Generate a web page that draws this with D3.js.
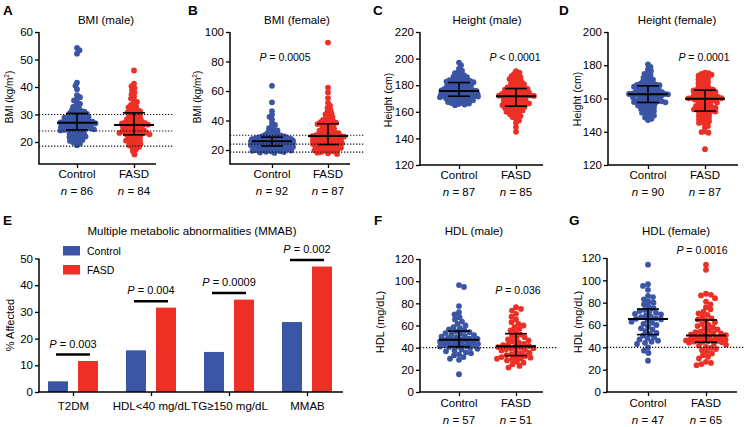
<!DOCTYPE html>
<html><head><meta charset="utf-8">
<script src="https://cdn.jsdelivr.net/npm/d3@7"></script>
<style>
html,body{margin:0;padding:0;background:#fff;}
svg{display:block;font-family:Arial,"Liberation Sans",Helvetica,sans-serif;}
</style></head>
<body><svg id="chart" width="749" height="427"></svg>
<script>
// ---------------- DATA ----------------
const groups = ['Control', 'FASD'];

const bmiMaleControl = [54.2,53.4,52.1,41.6,40.5,39.2,37.0,36.3,35.6,35.1,34.4,33.9,33.2,32.8,32.3,31.9,31.6,31.3,31.0,30.8,30.6,
  30.4,30.2,30.0,29.8,29.6,29.4,29.3,29.1,28.9,28.7,28.5,28.4,28.2,28.0,27.9,27.7,27.6,27.5,27.4,27.3,27.2,27.1,
  27.0,26.9,26.8,26.6,26.5,26.4,26.2,26.1,26.0,25.8,25.7,25.6,25.4,25.3,25.1,25.0,24.9,24.8,24.7,24.6,24.5,24.4,
  24.2,24.0,23.8,23.6,23.3,23.1,22.9,22.6,22.4,22.2,22.0,21.7,21.5,21.2,21.0,20.7,20.4,20.1,19.8,19.5,18.8];
const bmiMaleFASD = [46.0,41.2,40.3,39.6,38.8,38.0,37.3,36.5,35.8,35.2,34.6,34.0,33.5,33.0,32.6,32.2,31.8,31.5,31.2,31.0,30.8,
  30.5,30.2,29.9,29.6,29.3,29.0,28.8,28.5,28.3,28.0,27.8,27.6,27.4,27.2,27.0,26.9,26.8,26.7,26.5,26.4,26.3,
  26.1,25.9,25.7,25.5,25.3,25.1,24.9,24.7,24.5,24.3,24.2,24.0,23.9,23.7,23.6,23.4,23.3,23.2,23.0,22.9,22.8,
  22.6,22.3,22.0,21.8,21.5,21.2,21.0,20.7,20.5,20.2,20.0,19.7,19.4,19.1,18.8,18.5,18.2,17.8,17.3,16.6,15.5];
const bmiFemaleControl = [63.5,52.3,46.4,44.0,42.5,40.8,38.3,37.0,35.8,34.8,34.0,33.2,32.5,31.9,31.3,30.8,30.4,30.0,29.7,29.4,29.2,29.0,28.8,
  28.6,28.4,28.2,28.0,27.9,27.7,27.6,27.4,27.3,27.1,27.0,26.9,26.8,26.7,26.6,26.5,26.4,26.3,26.3,26.2,26.1,26.1,26.0,
  25.9,25.8,25.6,25.5,25.3,25.2,25.0,24.9,24.7,24.6,24.4,24.3,24.1,24.0,23.8,23.7,23.5,23.4,23.3,23.1,23.0,22.9,22.8,
  22.6,22.4,22.2,22.0,21.8,21.6,21.4,21.2,21.0,20.8,20.6,20.4,20.2,20.0,19.8,19.6,19.4,19.2,19.0,18.8,18.6,18.3,18.0];
const bmiFemaleFASD = [92.8,62.3,59.0,55.2,52.0,50.1,48.6,47.2,46.0,45.0,44.1,43.2,42.5,41.8,41.0,40.4,39.8,39.3,38.9,38.5,38.2,37.9,
  37.6,37.0,36.5,36.0,35.5,35.0,34.5,34.0,33.5,33.1,32.7,32.3,31.9,31.5,31.2,30.9,30.6,30.3,30.1,29.9,29.7,29.6,
  29.4,29.1,28.8,28.5,28.2,27.9,27.6,27.3,27.0,26.7,26.5,26.2,26.0,25.7,25.5,25.2,25.0,24.7,24.5,24.2,24.0,23.8,
  23.5,23.2,22.9,22.6,22.3,22.0,21.7,21.5,21.2,21.0,20.7,20.4,20.1,19.8,19.5,19.2,18.9,18.6,18.2,17.8,17.3];
const heightMaleControl = [197,195,192.5,191,190,189,188,187.5,187,186.5,186,185.5,185,184.5,184,183.8,183.5,183.2,183,182.7,182.5,182.2,
  181.8,181.5,181.2,181,180.5,180.2,180,179.5,179.2,179,178.5,178.2,178,177.6,177.3,177,176.7,176.5,176.3,176.1,176,175.8,
  175.5,175.3,175,174.8,174.5,174.3,174,173.8,173.6,173.4,173.2,173,172.8,172.6,172.4,172.3,172.2,172.1,172,171.9,171.8,171.7,
  171.5,171.2,171,170.7,170.5,170.2,170,169.6,169.3,169,168.6,168.3,168,167.6,167.3,167,166.6,166.2,165.8,165.4,165];
const heightMaleFASD = [190.5,189.5,188.5,187.5,186.8,186,185.3,184.6,184,183.3,182.7,182,181.4,180.8,180.2,179.6,179.2,178.8,178.4,178,177.7,
  177.3,177,176.6,176.3,176,175.6,175.3,175,174.6,174.3,174,173.7,173.4,173.2,173,172.7,172.5,172.3,172.1,171.9,171.8,
  171.5,171.2,170.8,170.5,170.1,169.8,169.4,169,168.7,168.3,168,167.6,167.3,167,166.6,166.3,166,165.6,165.3,165,164.7,164.4,
  164,163.6,163.2,162.8,162.4,162,161.5,161,160.5,160,159.4,158.8,158.2,157.5,156.8,156,154.8,153.5,151.8,148.5,145];
const heightFemaleControl = [180.5,179,177.5,176.5,175.5,174.8,174,173.3,172.6,172,171.4,170.8,170.3,169.8,169.4,169,168.7,168.4,168.2,168,167.8,167.7,
  167.4,167.1,166.8,166.5,166.2,165.9,165.6,165.3,165,164.7,164.5,164.2,164,163.8,163.6,163.4,163.2,163,162.9,162.8,162.7,162.7,162.6,
  162.5,162.4,162.3,162.2,162,161.8,161.5,161.2,161,160.7,160.4,160.1,159.8,159.5,159.2,159,158.7,158.5,158.3,158.1,157.9,157.8,157.7,
  157.4,157,156.6,156.2,155.8,155.4,155,154.6,154.2,153.8,153.4,153,152.5,152,151.5,151,150.4,149.8,149.2,148.5,147.8,147];
const heightFemaleFASD = [175.5,175.2,174.8,174.3,173.8,173.3,172.7,172.2,171.6,171,170.4,169.8,169.2,168.6,168,167.4,166.9,166.4,166,165.6,165.3,165.1,
  164.8,164.5,164.2,163.9,163.6,163.3,163,162.7,162.4,162.1,161.8,161.6,161.3,161,160.8,160.6,160.4,160.2,160.1,160,159.9,
  159.6,159.3,159,158.7,158.3,158,157.6,157.2,156.8,156.4,156,155.6,155.2,154.9,154.6,154.3,154,153.7,153.4,153.1,152.8,152.6,
  152.2,151.8,151.3,150.8,150.3,149.8,149.3,148.8,148.3,147.8,147.3,146.8,146.3,145.8,145.3,144.5,143.5,142.5,140.2,139.8,139.4,129.5];
const hdlMaleControl = [96.5,94.8,77.5,72,70,67.5,65.5,63.5,61.5,60,58.5,57.5,56.5,55.5,
  54.5,54,53.2,52.5,52,51.3,50.5,50,49.3,48.7,48.2,47.8,47.5,47.2,
  46.8,46.5,46,45.6,45,44.5,44,43.5,43,42.6,42.2,41.8,41.5,41.2,41,
  40.5,39.8,39,38.3,37.5,36.7,35.8,35,34,33,31.5,30,29,16];
const hdlMaleFASD = [76.5,75,73.5,70.5,68,65.5,63,61.5,60,58.5,57,55.5,54,
  52,50.5,49.5,48.5,47.5,46.5,45.5,44.5,43.5,42.8,42.2,41.6,
  41,40.5,40,39.5,39,38.5,38,37.5,36.5,35.5,34.8,34,33.3,
  32.5,32,31.5,31,30.5,30,29.5,28.5,27.5,26.5,25,23.5,22];
const hdlFemaleControl = [114,96.5,95,91.5,86,85,83,81,80,78.5,76.5,75,
  73.5,72.5,72,71,70,69.5,68.5,67.5,67,66,65.5,
  65,64,63,62,61,60,58.5,57,56,54.5,53,52,
  50.5,49,48,47,46,45,44,43,40,37,35,28];
const hdlFemaleFASD = [114,109.5,88,87,86.5,84,81,78.5,76,74,72,70.5,69,67.5,66,65,
  64,62.5,61,60,59,58,57,56,55,54,53.5,53,52.5,52,51.5,51,
  50,49.5,49,48.5,48,47.5,47,46.8,46.5,46.2,46,45.7,45.4,45.1,44.8,44.6,
  44.2,43.5,42.5,41.5,40.5,39.5,38.5,37.5,36,34.5,33,31.5,30,27,26,25,24];

// median / interquartile range [q1, median, q3] per group
const bmiMaleStats = [[24.4, 27.0, 30.4], [22.6, 26.2, 30.6]];
const bmiFemaleStats = [[22.7, 25.9, 28.7], [23.7, 29.5, 37.8]];
const heightMaleStats = [[171.7, 175.7, 182.0], [164.2, 171.7, 177.5]];
const heightFemaleStats = [[157.6, 162.6, 167.6], [152.4, 159.8, 165.0]];
const hdlMaleStats = [[40.9, 47.2, 55.0], [32.8, 41.3, 52.6]];
const hdlFemaleStats = [[51.4, 65.4, 74.3], [44.5, 50.5, 64.5]];

const bmiMaleN = [86, 84];
const bmiFemaleN = [92, 87];
const heightMaleN = [87, 85];
const heightFemaleN = [90, 87];
const hdlMaleN = [57, 51];
const hdlFemaleN = [47, 65];

const bmiRefLines = [30, 24, 18.5];
const hdlRefLines = [40];

const bmiMaleTicks = [20, 30, 40, 50, 60];
const bmiFemaleTicks = [20, 40, 60, 80, 100];
const heightMaleTicks = [120, 140, 160, 180, 200, 220];
const heightFemaleTicks = [120, 140, 160, 180, 200];
const hdlTicks = [0, 20, 40, 60, 80, 100, 120];

// Panel E
const mmabCategories = ['T2DM', 'HDL<40 mg/dL', 'TG\u2265150 mg/dL', 'MMAB'];
const mmabControl = [4.0, 15.6, 15.0, 26.2];
const mmabFASD = [11.6, 31.6, 34.6, 47.0];
const mmabP = ['0.003', '0.004', '0.0009', '0.002'];
const mmabTicks = [0, 10, 20, 30, 40, 50];

// ---------------- DRAW ----------------
const BLUE = '#3b55a5', RED = '#ec3026';
const colors = [BLUE, RED];
const svg = d3.select('#chart');
const FONT = 'Arial,"Liberation Sans",Helvetica,sans-serif';

function swarm(vals, y, d, maxW) {
  const pts = vals.map(v => ({ v, y: y(v) })).sort((a, b) => a.y - b.y);
  const placed = [];
  const step = 0.5, nMax = Math.floor(maxW / step);
  pts.forEach((p, i) => {
    let best = 0, bestScore = -Infinity, done = false;
    for (let k = 0; k <= nMax && !done; k++) {
      const sides = k === 0 ? [0] : (i % 2 ? [k * step, -k * step] : [-k * step, k * step]);
      for (const off of sides) {
        let minD = Infinity;
        for (const q of placed) {
          const dy = q.y - p.y;
          if (Math.abs(dy) >= d) continue;
          const dd = Math.hypot(q.x - off, dy);
          if (dd < minD) minD = dd;
        }
        if (minD >= d) { best = off; done = true; break; }
        if (minD > bestScore) { bestScore = minD; best = off; }
      }
    }
    p.x = best; placed.push(p);
  });
  return placed;
}

function letter(t, x, y) {
  svg.append('text').attr('x', x).attr('y', y).attr('font-size', 13.5).attr('font-weight', 900)
    .attr('font-family', FONT).text(t);
}

function pLabel(g, x, y, rel, val, size) {
  const t = g.append('text').attr('x', x).attr('y', y).attr('text-anchor', 'middle')
    .attr('font-size', size || 10.5).attr('font-family', FONT);
  t.append('tspan').attr('font-style', 'italic').text('P');
  t.append('tspan').text(' ' + rel + ' ' + val);
}

function dotPanel(cfg) {
  const g = svg.append('g');
  const y = d3.scaleLinear().domain(cfg.yDomain).range([cfg.bottom, cfg.top]);
  const x = d3.scalePoint().domain(groups).range(cfg.cx);
  // dots
  cfg.data.forEach((vals, gi) => {
    const pts = swarm(vals, y, cfg.d, cfg.maxW);
    g.append('g').selectAll('circle').data(pts).join('circle')
      .attr('cx', p => x(groups[gi]) + p.x).attr('cy', p => p.y).attr('r', 2.9)
      .attr('fill', colors[gi]);
  });
  // reference lines
  g.append('g').selectAll('line').data(cfg.refs).join('line')
    .attr('x1', cfg.axisX).attr('x2', cfg.refEnd).attr('y1', v => y(v)).attr('y2', v => y(v))
    .attr('stroke', '#111').attr('stroke-width', 1.2).attr('stroke-dasharray', '1.3,1.7');
  // error bars
  cfg.stats.forEach((s, gi) => {
    const cx = x(groups[gi]);
    const eb = g.append('g').attr('stroke', '#000');
    eb.append('line').attr('x1', cx).attr('x2', cx).attr('y1', y(s[0])).attr('y2', y(s[2])).attr('stroke-width', 1.6);
    eb.append('line').attr('x1', cx - 11).attr('x2', cx + 11).attr('y1', y(s[0])).attr('y2', y(s[0])).attr('stroke-width', 1.6);
    eb.append('line').attr('x1', cx - 11).attr('x2', cx + 11).attr('y1', y(s[2])).attr('y2', y(s[2])).attr('stroke-width', 1.6);
    eb.append('line').attr('x1', cx - 20).attr('x2', cx + 20).attr('y1', y(s[1])).attr('y2', y(s[1])).attr('stroke-width', 2);
  });
  // y axis
  const ya = g.append('g').attr('transform', `translate(${cfg.axisX},0)`)
    .call(d3.axisLeft(y).tickValues(cfg.ticks).tickSize(4).tickPadding(2).tickSizeOuter(0));
  ya.select('.domain').attr('stroke-width', 1.5).attr('d', `M0,${cfg.top}V${cfg.bottom}`);
  ya.selectAll('.tick line').attr('stroke-width', 1.3);
  ya.selectAll('.tick text').attr('font-size', 11.5).attr('font-family', FONT).attr('fill', '#000');
  // x axis
  const xa = g.append('g').attr('transform', `translate(0,${cfg.bottom})`)
    .call(d3.axisBottom(x).tickSize(4).tickFormat(''));
  xa.select('.domain').attr('stroke-width', 1.5).attr('d', `M${cfg.axisX - 0.7},0H${cfg.xEnd}`);
  xa.selectAll('.tick line').attr('stroke-width', 1.3);
  // category + n labels
  groups.forEach((gname, gi) => {
    g.append('text').attr('x', x(gname)).attr('y', cfg.catY).attr('text-anchor', 'middle')
      .attr('font-size', 11.5).attr('font-family', FONT).text(gname);
    const t = g.append('text').attr('x', x(gname)).attr('y', cfg.nY).attr('text-anchor', 'middle')
      .attr('font-size', 11.5).attr('font-family', FONT);
    t.append('tspan').attr('font-style', 'italic').text('n');
    t.append('tspan').text(' = ' + cfg.n[gi]);
  });
  // title
  g.append('text').attr('x', cfg.titleX).attr('y', cfg.titleY).attr('text-anchor', 'middle')
    .attr('font-size', 11.5).attr('font-family', FONT).text(cfg.title);
  // y label
  const yl = g.append('text').attr('transform', `translate(${cfg.ylabelX},${cfg.ylabelY}) rotate(-90)`)
    .attr('text-anchor', 'middle').attr('font-size', cfg.ylabelSize).attr('font-family', FONT);
  if (cfg.ylabelSup) {
    yl.append('tspan').text(cfg.ylabel[0]);
    yl.append('tspan').attr('font-size', cfg.ylabelSize * 0.65).attr('dy', -4).text(cfg.ylabel[1]);
    yl.append('tspan').attr('dy', 4).text(cfg.ylabel[2]);
  } else yl.text(cfg.ylabel);
  if (cfg.p) pLabel(g, cfg.pX, cfg.pY, cfg.p[0], cfg.p[1]);
  letter(cfg.letter, cfg.letterX, cfg.letterY);
}

dotPanel({ letter: 'A', letterX: 3, letterY: 15, title: 'BMI (male)', titleX: 106, titleY: 24,
  ylabel: ['BMI (kg/m', '2', ')'], ylabelSup: true, ylabelSize: 10, ylabelX: 13, ylabelY: 97,
  data: [bmiMaleControl, bmiMaleFASD], stats: bmiMaleStats, n: bmiMaleN, refs: bmiRefLines,
  yDomain: [12, 60], ticks: bmiMaleTicks, top: 32, bottom: 164, axisX: 39, xEnd: 156, refEnd: 173,
  cx: [77, 134], catY: 178, nY: 195, d: 3.3, maxW: 20 });
dotPanel({ letter: 'B', letterX: 188, letterY: 15, title: 'BMI (female)', titleX: 297, titleY: 24,
  ylabel: ['BMI (kg/m', '2', ')'], ylabelSup: true, ylabelSize: 10, ylabelX: 201, ylabelY: 97,
  data: [bmiFemaleControl, bmiFemaleFASD], stats: bmiFemaleStats, n: bmiFemaleN, refs: bmiRefLines,
  yDomain: [10.5, 100], ticks: bmiFemaleTicks, top: 32, bottom: 164, axisX: 230, xEnd: 350, refEnd: 365,
  cx: [272, 328], catY: 178, nY: 195, d: 3.3, maxW: 21, p: ['=', '0.0005'], pX: 285, pY: 61 });
dotPanel({ letter: 'C', letterX: 373, letterY: 15, title: 'Height (male)', titleX: 487, titleY: 24,
  ylabel: 'Height (cm)', ylabelSize: 10.5, ylabelX: 392, ylabelY: 100,
  data: [heightMaleControl, heightMaleFASD], stats: heightMaleStats, n: heightMaleN, refs: [],
  yDomain: [120, 220], ticks: heightMaleTicks, top: 32, bottom: 165, axisX: 420, xEnd: 543, refEnd: 543,
  cx: [459, 516], catY: 179, nY: 196, d: 3.3, maxW: 19, p: ['<', '0.0001'], pX: 515, pY: 61 });
dotPanel({ letter: 'D', letterX: 559, letterY: 15, title: 'Height (female)', titleX: 677, titleY: 24,
  ylabel: 'Height (cm)', ylabelSize: 10.5, ylabelX: 581, ylabelY: 99,
  data: [heightFemaleControl, heightFemaleFASD], stats: heightFemaleStats, n: heightFemaleN, refs: [],
  yDomain: [120, 200], ticks: heightFemaleTicks, top: 32, bottom: 165, axisX: 608, xEnd: 738, refEnd: 738,
  cx: [648, 705], catY: 179, nY: 196, d: 3.3, maxW: 20, p: ['=', '0.0001'], pX: 704, pY: 61 });
dotPanel({ letter: 'F', letterX: 374, letterY: 225, title: 'HDL (male)', titleX: 474, titleY: 235,
  ylabel: 'HDL (mg/dL)', ylabelSize: 11, ylabelX: 384, ylabelY: 322,
  data: [hdlMaleControl, hdlMaleFASD], stats: hdlMaleStats, n: hdlMaleN, refs: hdlRefLines,
  yDomain: [0, 120], ticks: hdlTicks, top: 259, bottom: 392, axisX: 420, xEnd: 543, refEnd: 558,
  cx: [459, 516], catY: 407, nY: 424, d: 5.0, maxW: 19, p: ['=', '0.036'], pX: 518, pY: 294 });
dotPanel({ letter: 'G', letterX: 569, letterY: 225, title: 'HDL (female)', titleX: 676, titleY: 235,
  ylabel: 'HDL (mg/dL)', ylabelSize: 11, ylabelX: 582, ylabelY: 322,
  data: [hdlFemaleControl, hdlFemaleFASD], stats: hdlFemaleStats, n: hdlFemaleN, refs: hdlRefLines,
  yDomain: [0, 120], ticks: hdlTicks, top: 258, bottom: 392, axisX: 607, xEnd: 737, refEnd: 745,
  cx: [648, 706], catY: 407, nY: 424, d: 5.0, maxW: 20, p: ['=', '0.0016'], pX: 702, pY: 254 });

// ---- Panel E: bar chart ----
(function () {
  const g = svg.append('g');
  const top = 258.5, bottom = 392, axisX = 39, xEnd = 343;
  const y = d3.scaleLinear().domain([0, 50]).range([bottom, top]);
  const x = d3.scalePoint().domain(mmabCategories).range([73, 307]);
  const x1 = d3.scaleBand().domain(groups).range([-25, 25]).paddingInner(1 / 3);
  const rows = mmabCategories.map((c, i) => ({ c, vals: [mmabControl[i], mmabFASD[i]], p: mmabP[i] }));
  rows.forEach(r => {
    r.vals.forEach((v, gi) => {
      g.append('rect').attr('x', x(r.c) + x1(groups[gi])).attr('width', x1.bandwidth())
        .attr('y', y(v)).attr('height', y(0) - y(v)).attr('fill', colors[gi]);
    });
    const ly = y(Math.max(...r.vals)) - 6.5;
    g.append('line').attr('x1', x(r.c) - 17).attr('x2', x(r.c) + 17).attr('y1', ly).attr('y2', ly)
      .attr('stroke', '#000').attr('stroke-width', 2.5);
    pLabel(g, x(r.c), ly - 7, '=', r.p, 11);
  });
  const ya = g.append('g').attr('transform', `translate(${axisX},0)`)
    .call(d3.axisLeft(y).tickValues(mmabTicks).tickSize(4).tickPadding(2).tickSizeOuter(0));
  ya.select('.domain').attr('stroke-width', 1.5).attr('d', `M0,${top}V${bottom}`);
  ya.selectAll('.tick line').attr('stroke-width', 1.3);
  ya.selectAll('.tick text').attr('font-size', 11.5).attr('font-family', FONT).attr('fill', '#000');
  const xa = g.append('g').attr('transform', `translate(0,${bottom})`)
    .call(d3.axisBottom(x).tickSize(4).tickPadding(6));
  xa.select('.domain').attr('stroke-width', 1.5).attr('d', `M${axisX - 0.7},0H${xEnd}`);
  xa.selectAll('.tick line').attr('stroke-width', 1.3);
  xa.selectAll('.tick text').attr('font-size', 11.5).attr('font-family', FONT).attr('fill', '#000');
  g.append('text').attr('x', 192).attr('y', 235).attr('text-anchor', 'middle')
    .attr('font-size', 11.5).attr('font-family', FONT).text('Multiple metabolic abnormalities (MMAB)');
  g.append('text').attr('transform', 'translate(14,325) rotate(-90)').attr('text-anchor', 'middle')
    .attr('font-size', 11).attr('font-family', FONT).text('% Affected');
  // legend
  groups.forEach((gname, gi) => {
    g.append('rect').attr('x', 63).attr('y', 246 + gi * 19).attr('width', 17).attr('height', 9.5).attr('fill', colors[gi]);
    g.append('text').attr('x', 87).attr('y', 254.5 + gi * 19).attr('font-size', 10.5).attr('font-family', FONT).text(gname);
  });
  letter('E', 3, 225);
})();
</script></body></html>
